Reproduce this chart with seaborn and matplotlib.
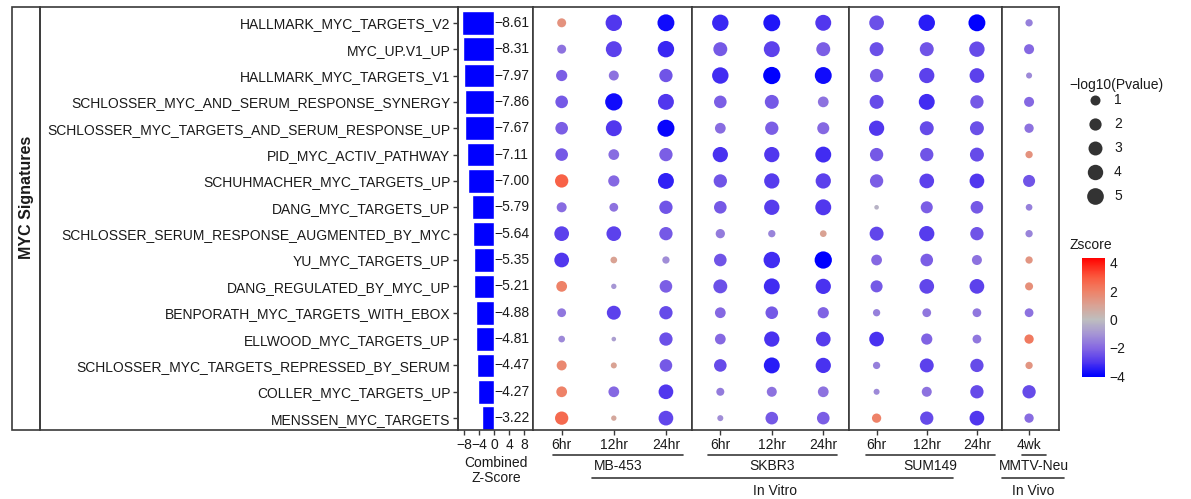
import matplotlib
matplotlib.use("Agg")
import matplotlib.pyplot as plt
import seaborn as sns
import numpy as np
import pandas as pd
from matplotlib.colors import LinearSegmentedColormap, Normalize
from matplotlib.lines import Line2D
from matplotlib.patches import Rectangle
import matplotlib.colorbar as mcolorbar

# ---------------- data ----------------
signatures = [
    "HALLMARK_MYC_TARGETS_V2",
    "MYC_UP.V1_UP",
    "HALLMARK_MYC_TARGETS_V1",
    "SCHLOSSER_MYC_AND_SERUM_RESPONSE_SYNERGY",
    "SCHLOSSER_MYC_TARGETS_AND_SERUM_RESPONSE_UP",
    "PID_MYC_ACTIV_PATHWAY",
    "SCHUHMACHER_MYC_TARGETS_UP",
    "DANG_MYC_TARGETS_UP",
    "SCHLOSSER_SERUM_RESPONSE_AUGMENTED_BY_MYC",
    "YU_MYC_TARGETS_UP",
    "DANG_REGULATED_BY_MYC_UP",
    "BENPORATH_MYC_TARGETS_WITH_EBOX",
    "ELLWOOD_MYC_TARGETS_UP",
    "SCHLOSSER_MYC_TARGETS_REPRESSED_BY_SERUM",
    "COLLER_MYC_TARGETS_UP",
    "MENSSEN_MYC_TARGETS",
]
combined_z = [-8.61, -8.31, -7.97, -7.86, -7.67, -7.11, -7.00, -5.79,
              -5.64, -5.35, -5.21, -4.88, -4.81, -4.47, -4.27, -3.22]

cell_lines = ["MB-453", "SKBR3", "SUM149", "MMTV-Neu"]
timepoints = [["6hr", "12hr", "24hr"], ["6hr", "12hr", "24hr"],
              ["6hr", "12hr", "24hr"], ["4wk"]]

# columns: MB-453 6/12/24, SKBR3 6/12/24, SUM149 6/12/24, MMTV-Neu 4wk
neglog_p = [
    [0.66, 4.8, 5.2, 4.8, 5.2, 4.4, 3.5, 4.8, 5.2, 0.25],
    [0.66, 4.4, 4.8, 3.0, 4.4, 3.0, 3.0, 3.0, 4.0, 1.0],
    [1.5, 1.0, 2.6, 4.8, 5.5, 5.2, 2.6, 3.9, 3.5, 0.07],
    [2.2, 5.5, 4.4, 2.2, 3.0, 1.3, 3.0, 4.4, 2.6, 1.0],
    [2.2, 4.4, 5.3, 1.3, 2.6, 1.9, 3.9, 3.0, 3.0, 0.75],
    [2.2, 1.3, 2.6, 3.9, 3.9, 4.4, 2.6, 2.6, 3.0, 0.25],
    [2.6, 1.5, 4.4, 2.6, 3.9, 3.9, 2.6, 3.5, 3.5, 1.9],
    [1.0, 0.6, 2.6, 2.2, 3.9, 4.4, 0.0, 1.9, 2.2, 0.15],
    [3.5, 3.5, 2.6, 0.75, 0.25, 0.15, 3.0, 3.9, 2.6, 0.25],
    [3.5, 0.15, 0.25, 2.2, 4.8, 5.5, 1.3, 2.2, 1.0, 0.25],
    [1.3, 0.02, 2.2, 3.0, 4.4, 3.9, 1.9, 3.5, 3.5, 0.4],
    [0.6, 3.0, 2.6, 1.3, 2.2, 1.5, 0.25, 0.6, 0.6, 0.6],
    [0.15, 0.0, 2.6, 1.3, 3.9, 3.5, 3.5, 1.5, 0.6, 0.75],
    [1.0, 0.07, 2.2, 2.2, 4.4, 3.9, 0.25, 3.0, 2.6, 0.25],
    [1.3, 1.3, 3.5, 0.4, 1.0, 1.3, 0.07, 1.0, 2.6, 2.6],
    [2.6, 0.02, 3.5, 0.07, 2.2, 2.2, 0.75, 2.6, 3.5, 0.75],
]
zscore = [
    [1.5, -3.0, -3.8, -3.3, -3.6, -3.0, -2.5, -3.5, -4.0, -1.5],
    [-1.8, -2.8, -3.3, -2.3, -2.8, -2.2, -2.5, -2.4, -2.6, -2.0],
    [-2.2, -1.8, -2.4, -3.2, -4.0, -3.8, -2.3, -2.8, -2.8, -1.3],
    [-2.3, -3.8, -3.0, -2.2, -2.3, -1.8, -2.6, -3.2, -2.3, -2.0],
    [-2.2, -3.0, -3.9, -1.9, -2.2, -2.0, -3.0, -2.6, -2.5, -1.8],
    [-2.3, -1.9, -2.2, -3.1, -3.0, -3.2, -2.3, -2.4, -2.6, 1.5],
    [2.8, -2.0, -3.4, -2.4, -2.9, -2.8, -2.2, -2.8, -3.0, -2.4],
    [-1.9, -1.8, -2.4, -2.3, -2.9, -3.0, -0.3, -2.2, -2.3, -1.5],
    [-2.8, -2.8, -2.3, -1.6, -1.4, 1.0, -2.7, -2.9, -2.4, -1.4],
    [-3.0, 1.0, -1.2, -2.4, -3.2, -4.0, -2.0, -2.2, -1.8, 1.4],
    [2.0, -1.0, -2.2, -2.5, -3.2, -3.1, -2.3, -2.7, -2.8, 1.6],
    [-1.7, -2.8, -2.6, -2.0, -2.3, -2.1, -1.5, -1.7, -1.7, -1.8],
    [-1.3, -0.8, -2.5, -2.0, -3.1, -2.9, -3.1, -2.1, -1.7, 2.2],
    [1.8, 1.0, -2.3, -2.6, -3.5, -3.1, -1.5, -2.8, -2.6, 1.4],
    [2.0, -2.0, -3.0, -1.6, -1.8, -1.8, -1.3, -1.8, -2.6, -2.6],
    [2.6, 0.8, -2.7, -1.2, -2.3, -2.2, 2.0, -2.6, -3.0, -1.9],
]

# ---------------- setup ----------------
W, H = 1191, 499
sns.set_style("white")
plt.rcParams["font.family"] = ["Liberation Sans", "DejaVu Sans"]
FS = 10
TXT = "#1a1a1a"
LINE = "#3a3a3a"

conds = [(cl, t) for cl, ts in zip(cell_lines, timepoints) for t in ts]
rows = []
for i, sig in enumerate(signatures):
    for j, (cl, t) in enumerate(conds):
        rows.append(dict(signature=sig, cell_line=cl, time=t,
                         p=neglog_p[i][j], z=zscore[i][j]))
df = pd.DataFrame(rows)
df["signature"] = pd.Categorical(df["signature"], categories=signatures)


def dot_area(p):
    # ggplot-like size scale: diameter grows with sqrt(value)
    d_px = 4.6 + 5.4 * np.sqrt(p)
    return (d_px * 72 / 100.0) ** 2


df["area"] = dot_area(df["p"])
AMIN, AMAX = dot_area(0), dot_area(6)

zmin, zmax = -4.07, 4.35
norm = Normalize(zmin, zmax)
nodes = [(-4, "#0000FF"), (-3, "#5238EE"), (-2, "#8669E2"), (-1, "#A696D4"),
         (0, "#BEBEBE"), (1, "#D9A294"), (2, "#EE8268"), (3, "#FA5A3F"), (4, "#FF1A10")]
cmap = LinearSegmentedColormap.from_list(
    "zs", [(0.0, "#0000FF")] + [((v - zmin) / (zmax - zmin), c) for v, c in nodes] + [(1.0, "#FF0000")])

fig = plt.figure(figsize=(W / 100, H / 100), dpi=100)


def px_axes(x0, x1, y0, y1):
    return fig.add_axes([x0 / W, 1 - y1 / H, (x1 - x0) / W, (y1 - y0) / H])


def fx(x):
    return x / W


def fy(y):
    return 1 - y / H


TOP, BOT = 7, 430
ylims = (15.45, -0.6)

# ---------------- bar panel ----------------
axb = px_axes(458, 533, TOP, BOT)
sns.barplot(x=combined_z, y=signatures, orient="h", color="#0000FF", saturation=1,
            edgecolor="white", linewidth=1, width=0.9, ax=axb)
axb.set_xlim(-9.6, 10.4)
axb.set_ylim(*ylims)
for i, v in enumerate(combined_z):
    axb.text(0.15, i, f"{v:.2f}".replace("-", "\u2212"), va="center", ha="left",
             fontsize=FS, color=TXT)
axb.set_xticks([-8, -4, 0, 4, 8])
axb.set_xticklabels(["\u22128", "\u22124", "0", "4", "8"])
axb.tick_params(axis="both", labelsize=FS, colors=LINE, labelcolor=TXT,
                length=3.5, width=1, left=True, bottom=True, pad=2)
axb.set_xlabel("")
axb.set_ylabel("")
for s in axb.spines.values():
    s.set_color(LINE)
    s.set_linewidth(1.2)

# ---------------- dot panels ----------------
panel_px = [(533, 692), (692, 849), (849, 1002), (1002, 1059)]
for cl, ts, (x0, x1) in zip(cell_lines, timepoints, panel_px):
    ax = px_axes(x0, x1, TOP, BOT)
    sub = df[df["cell_line"] == cl]
    sns.scatterplot(data=sub, x="time", y="signature", hue="z", palette=cmap,
                    hue_norm=norm, size="area", sizes=(AMIN, AMAX),
                    size_norm=(AMIN, AMAX), linewidth=0, legend=False, ax=ax)
    n = len(ts)
    if n == 3:
        ax.set_xlim(-0.55, 2.5)
    else:
        ax.set_xlim(-0.57, 0.63)
    ax.set_ylim(*ylims)
    ax.set_yticks([])
    ax.set_xlabel("")
    ax.set_ylabel("")
    ax.tick_params(axis="x", labelsize=FS, colors=LINE, labelcolor=TXT,
                   length=3.5, width=1, bottom=True, pad=2)
    for s in ax.spines.values():
        s.set_color(LINE)
        s.set_linewidth(1.2)

# ---------------- left strip ----------------
fig.patches.append(Rectangle((fx(12), fy(BOT)), fx(40) - fx(12), fy(TOP) - fy(BOT),
                             transform=fig.transFigure, fill=False,
                             edgecolor=LINE, linewidth=1.2))
fig.patches.append(Rectangle((fx(40), fy(BOT)), fx(458) - fx(40), fy(TOP) - fy(BOT),
                             transform=fig.transFigure, fill=False,
                             edgecolor=LINE, linewidth=1.2))
fig.text(fx(27), fy(197), "MYC Signatures", rotation=90, ha="center", va="center",
         fontsize=11.5, fontweight="bold", color=TXT)

# ---------------- bottom group labels ----------------
def hline(x0, x1, y):
    fig.add_artist(Line2D([fx(x0), fx(x1)], [fy(y), fy(y)], transform=fig.transFigure,
                          color=LINE, linewidth=1.2))


fig.text(fx(496), fy(463), "Combined", ha="center", va="center", fontsize=FS, color=TXT)
fig.text(fx(496), fy(478), "Z-Score", ha="center", va="center", fontsize=FS, color=TXT)

groups = [("MB-453", 553, 683), ("SKBR3", 708, 837), ("SUM149", 866, 995),
          ("MMTV-Neu", 1022, 1046)]
for name, x0, x1 in groups:
    hline(x0, x1, 455)
    fig.text(fx((x0 + x1) / 2), fy(466), name, ha="center", va="center",
             fontsize=FS, color=TXT)

hline(592, 953, 478)
fig.text(fx(775), fy(491), "In Vitro", ha="center", va="center", fontsize=FS, color=TXT)
hline(1002, 1064, 478)
fig.text(fx(1033), fy(491), "In Vivo", ha="center", va="center", fontsize=FS, color=TXT)

# ---------------- size legend ----------------
axl = px_axes(1060, 1191, 60, 215)
axl.set_xlim(1060, 1191)
axl.set_ylim(215, 60)
axl.axis("off")
axl.text(1069, 85, "\u2212log10(Pvalue)", ha="left", va="center", fontsize=FS, color=TXT)
for k, yy in zip([1, 2, 3, 4, 5], [100, 124, 148, 172, 196]):
    axl.scatter([1095], [yy], s=dot_area(k), color="#333333", linewidth=0)
    axl.text(1114, yy, str(k), ha="left", va="center", fontsize=FS, color=TXT)

# ---------------- colour bar ----------------
fig.text(fx(1070), fy(245), "Zscore", ha="left", va="center", fontsize=FS, color=TXT)
axc = px_axes(1082, 1105, 258, 377)
cb = mcolorbar.ColorbarBase(axc, cmap=cmap, norm=norm, orientation="vertical")
cb.set_ticks([-4, -2, 0, 2, 4])
cb.set_ticklabels(["\u22124", "\u22122", "0", "2", "4"])
cb.outline.set_visible(False)
axc.tick_params(colors="white", labelcolor=TXT, labelsize=FS, length=4,
                width=1, direction="in", pad=3)

fig.savefig("out.png", dpi=100)
